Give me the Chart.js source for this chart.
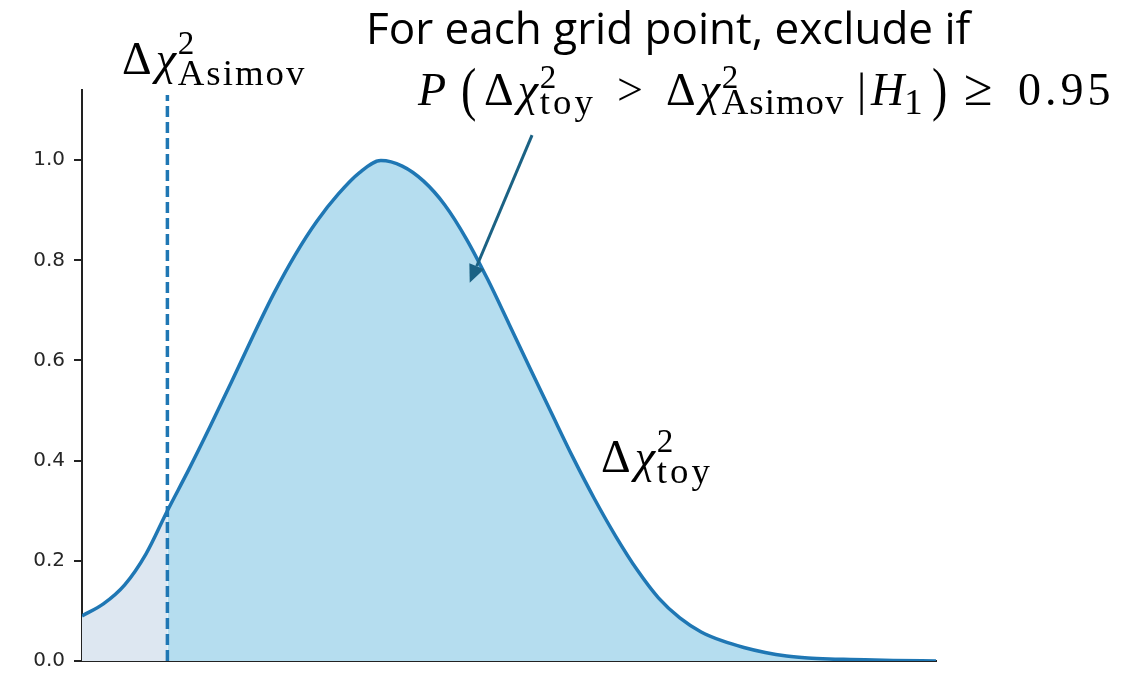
<!DOCTYPE html>
<html>
<head>
<meta charset="utf-8">
<script src="https://cdn.jsdelivr.net/npm/chart.js@4.4.1/dist/chart.umd.min.js"></script>
<style>
  html, body { margin: 0; padding: 0; background: #fff; }
  #wrap { position: relative; width: 1132px; height: 682px; overflow: hidden; }
  #chart { position: absolute; left: 0; top: 0; }
  .note { position: absolute; white-space: nowrap; color: #000; line-height: 1; }
  .head { font-family: "Open Sans", sans-serif; font-size: 44px; }
  .math { font-family: "Liberation Serif", serif; font-size: 46px; }
  .math i { font-style: italic; }
  .d { margin-right: 0.09em; }
  .x { margin-right: 0.04em; }
  .sup { display: inline-block; width: 0; font-size: 0.72em; position: relative; top: -0.6em; }
  .sub { font-size: 0.8em; position: relative; top: 0.3em; letter-spacing: 1px; }
  .inl .sup { top: -0.52em; }
  .inl .sub { top: 0.24em; }
  .big { display: inline-block; transform: scaleY(1.3); }
</style>
</head>
<body>
<div id="wrap">
  <canvas id="chart" width="1132" height="682"></canvas>
  <div class="note head" style="left:366px; top:5px;">For each grid point, exclude if</div>

  <!-- exclusion condition, laid out piece by piece on one baseline -->
  <div class="inl">
    <div class="note math" style="left:418px; top:67px;"><i>P</i></div>
    <div class="note math" style="left:461px; top:67px;"><span class="big">(</span></div>
    <div class="note math" style="left:484px; top:67px;"><span class="d">Δ</span><i class="x">χ</i><span class="sup">2</span><span class="sub" style="letter-spacing:3px;">toy</span></div>
    <div class="note math" style="left:617px; top:67px;">&gt;</div>
    <div class="note math" style="left:666px; top:67px;"><span class="d">Δ</span><i class="x">χ</i><span class="sup">2</span><span class="sub">Asimov</span></div>
    <div class="note math" style="left:857px; top:67px;">|</div>
    <div class="note math" style="left:871px; top:67px;"><i>H</i><span class="sub">1</span></div>
    <div class="note math" style="left:932px; top:67px;"><span class="big">)</span></div>
    <div class="note math" style="left:964px; top:62px; font-size:52px;">≥</div>
    <div class="note math" style="left:1018px; top:67px; letter-spacing:4px;">0.95</div>
  </div>

  <div class="note math" style="left:122px; top:36px;"><span class="d">Δ</span><i class="x">χ</i><span class="sup">2</span><span class="sub" style="letter-spacing:2px;">Asimov</span></div>
  <div class="note math" style="left:601px; top:434px;"><span class="d">Δ</span><i class="x">χ</i><span class="sup">2</span><span class="sub" style="letter-spacing:3px;">toy</span></div>
</div>
<script>
// test statistic grid and the density read at each point
const xs = [0, 0.25, 0.5, 0.75, 1, 1.25, 1.5, 1.75, 2, 2.25, 2.5, 2.75, 3, 3.25, 3.5, 3.75,
            4, 4.25, 4.5, 4.75, 5, 5.25, 5.5, 5.75, 6, 6.25, 6.5, 6.75, 7, 7.25, 7.5, 7.75,
            8, 8.25, 8.5, 8.75, 9, 9.5, 10];
const density = [0.090, 0.114, 0.152, 0.214, 0.300, 0.382, 0.468, 0.557, 0.648, 0.735, 0.812, 0.878, 0.932, 0.975, 0.999, 0.988,
                 0.958, 0.910, 0.843, 0.762, 0.673, 0.583, 0.494, 0.406, 0.324, 0.249, 0.182, 0.126, 0.086, 0.058, 0.040, 0.027,
                 0.017, 0.010, 0.006, 0.004, 0.003, 0.001, 0.000];
const asimov = 1.0;          // Asimov value, marks the cut
const yTicks = [0, 0.2, 0.4, 0.6, 0.8, 1.0];
const yMax = 1.14;
const cutTop = 1.13;
const arrowFrom = { x: 5.27, y: 1.05 };
const arrowTo = { x: 4.54, y: 0.755 };

const pts = xs.map((x, i) => ({ x, y: density[i] }));
const below = pts.filter(p => p.x <= asimov);
const above = pts.filter(p => p.x >= asimov);

const blue = "#1f77b4";

const arrowPlugin = {
  id: "arrow",
  afterDraw(chart) {
    const { ctx, scales: { x, y } } = chart;
    const x0 = x.getPixelForValue(arrowFrom.x), y0 = y.getPixelForValue(arrowFrom.y);
    const x1 = x.getPixelForValue(arrowTo.x), y1 = y.getPixelForValue(arrowTo.y);
    const ang = Math.atan2(y1 - y0, x1 - x0);
    const head = 18, half = 8;
    const bx = x1 - head * Math.cos(ang), by = y1 - head * Math.sin(ang);
    ctx.save();
    ctx.strokeStyle = ctx.fillStyle = "#1b6284";
    ctx.lineWidth = 3;
    ctx.beginPath();
    ctx.moveTo(x0, y0);
    ctx.lineTo(bx, by);
    ctx.stroke();
    ctx.beginPath();
    ctx.moveTo(x1, y1);
    ctx.lineTo(bx + half * Math.sin(ang), by - half * Math.cos(ang));
    ctx.lineTo(bx - half * Math.sin(ang), by + half * Math.cos(ang));
    ctx.closePath();
    ctx.fill();
    ctx.restore();
  }
};

const smooth = { cubicInterpolationMode: "monotone", pointRadius: 0 };

new Chart(document.getElementById("chart"), {
  type: "line",
  data: {
    datasets: [
      { ...smooth, data: below, order: 4, fill: "origin", backgroundColor: "#dde7f1", borderWidth: 0 },
      { ...smooth, data: above, order: 3, fill: "origin", backgroundColor: "#b5ddef", borderWidth: 0 },
      { data: [{ x: asimov, y: 0 }, { x: asimov, y: cutTop }], order: 2, borderColor: blue, borderWidth: 3.5,
        borderDash: [11, 5], pointRadius: 0, fill: false },
      { ...smooth, data: pts, order: 1, fill: false, borderColor: blue, borderWidth: 3.5 }
    ]
  },
  options: {
    responsive: false,
    animation: false,
    events: [],
    layout: { padding: { left: 0, right: 196, top: 90, bottom: 0 } },
    plugins: { legend: { display: false }, tooltip: { enabled: false } },
    scales: {
      x: {
        type: "linear", min: 0, max: 10,
        grid: { display: false },
        border: { display: true, color: "#222", width: 2 },
        ticks: { display: false },
        afterFit: s => { s.height = 20; }
      },
      y: {
        min: 0, max: yMax,
        afterBuildTicks: s => { s.ticks = yTicks.map(v => ({ value: v })); },
        grid: { drawOnChartArea: false, drawTicks: true, tickLength: 8, color: "#222", lineWidth: 2 },
        border: { display: true, color: "#222", width: 2 },
        ticks: {
          padding: 9, color: "#262626",
          font: { family: "DejaVu Sans", size: 20 },
          callback: v => v.toFixed(1)
        },
        afterFit: s => { s.width = 82; }
      }
    }
  },
  plugins: [arrowPlugin]
});
</script>
</body>
</html>
